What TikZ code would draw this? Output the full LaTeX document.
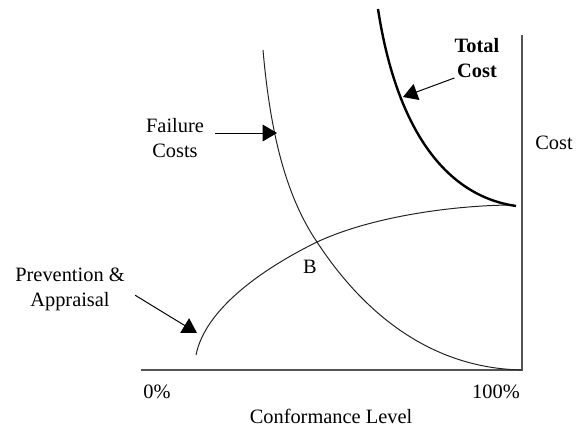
\documentclass[tikz,border=0pt]{standalone}
\usepackage{fontspec}
\setmainfont{Liberation Serif}
\usetikzlibrary{arrows.meta}
\definecolor{ax}{HTML}{555555}
\definecolor{cv}{HTML}{222222}

\begin{document}
\begin{tikzpicture}[x=0.025cm,y=-0.025cm,
  lbl/.style={align=center,font=\fontsize{14.5}{17.8}\selectfont,inner sep=0pt},
  curve/.style={line width=0.7pt,color=cv},
  total/.style={line width=1.7pt,color=black},
  axis/.style={line width=0.8pt,color=ax},
  pointer/.style={-{Triangle[length=0.36cm,width=0.42cm]},line width=0.7pt,color=black}]
\useasboundingbox (0,0) rectangle (585,430);
% axes
\coordinate (origin) at (141,370);
\coordinate (corner) at (522,370);
\coordinate (top) at (522,35);
\draw[axis](origin)--(corner)--(top);
% curves
\coordinate (bpt) at (317,242);
\draw[curve](263,50) .. controls (270,130) and (285,195) .. (bpt)
  .. controls (355,300) and (420,368) .. (corner);
\draw[curve](196,355) .. controls (205,310) and (260,270) .. (bpt)
  .. controls (375,215) and (460,205) .. (514,205);
\draw[total](378,9) .. controls (395,120) and (440,195) .. (516,206);
% labels
\node[lbl](totlbl) at (477,58) {\textbf{Total}\\\textbf{Cost}};
\node[lbl](faillbl) at (175,138) {Failure\\Costs};
\node[lbl](prevlbl) at (70,289) {Prevention \&\\Appraisal};
\node[lbl](costlbl) at (554,143) {Cost};
\node[lbl](zerolbl) at (157,392) {0\%};
\node[lbl](fulllbl) at (496,392) {100\%};
\node[lbl](conflbl) at (331,416) {Conformance Level};
\node[lbl](blbl) at (310,267) {B};
% pointers
\coordinate (tottip) at (403,97);
\coordinate (failtip) at (277,133);
\coordinate (prevtip) at (197,333);
\draw[pointer](totlbl.south west)--(tottip);
\draw[pointer,shorten <=0.27cm](faillbl.east |- failtip)--(failtip);
\draw[pointer,shorten <=0.3cm](prevlbl.east)--(prevtip);
\end{tikzpicture}
\end{document}
